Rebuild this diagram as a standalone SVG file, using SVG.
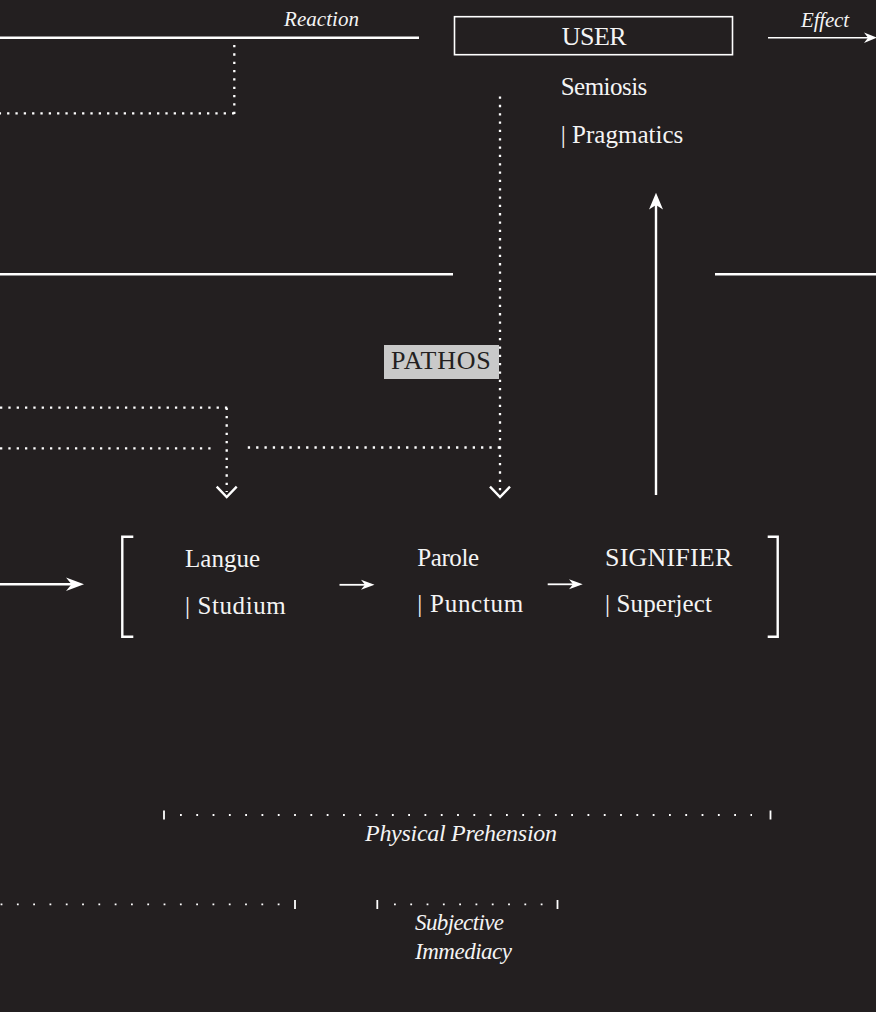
<svg xmlns="http://www.w3.org/2000/svg" width="876" height="1012" viewBox="0 0 876 1012">
  <style>
    .txt { font-family: "Liberation Serif", "DejaVu Serif", serif; fill: #f4f4f4; font-size: 25px; }
    .caps { font-size: 26px; }
    .it { font-family: "Liberation Serif", "DejaVu Serif", serif; fill: #f4f4f4; font-style: italic; font-size: 21px; }
    .big { font-size: 23px; }
    .solid { stroke: #ffffff; stroke-width: 2.4; fill: none; }
    .dots { stroke: #ffffff; stroke-width: 2.3; stroke-dasharray: 2.3 6.03; fill: none; }
    .fine { stroke: #ffffff; stroke-width: 1.8; stroke-dasharray: 1.8 14.5; fill: none; }
    .tick { stroke: #ffffff; stroke-width: 1.8; }
    .head { fill: #ffffff; }
    .chev { stroke: #ffffff; stroke-width: 2.4; fill: none; }
  </style>
  <rect width="876" height="1012" fill="#231f20"/>

  <g id="connectors">
    <!-- reaction line and its dotted return -->
    <line class="solid" x1="0" y1="37.7" x2="419" y2="37.7"/>
    <line class="dots" x1="234.3" y1="45" x2="234.3" y2="114"/>
    <line class="dots" x1="234.3" y1="113.3" x2="0" y2="113.3"/>

    <!-- effect arrow -->
    <line class="solid" x1="768" y1="37.7" x2="870" y2="37.7" style="stroke-width:1.6"/>
    <path class="head" d="M877,37.7 L864,32.5 L868,37.7 L864,42.9 Z"/>

    <!-- horizontal dividers -->
    <line class="solid" x1="0" y1="274.3" x2="453" y2="274.3"/>
    <line class="solid" x1="715" y1="274.3" x2="876" y2="274.3"/>

    <!-- dotted feed into Langue -->
    <line class="dots" x1="0" y1="407.7" x2="228" y2="407.7"/>
    <line class="dots" x1="226.7" y1="407.7" x2="226.7" y2="492"/>
    <polyline class="chev" points="216.7,486.7 226.7,497 236.7,486.7"/>
    <line class="dots" x1="0" y1="448.3" x2="211" y2="448.3"/>

    <!-- dotted feed into Parole -->
    <line class="dots" x1="500" y1="96.5" x2="500" y2="492"/>
    <line class="dots" x1="500" y1="447.5" x2="245" y2="447.5"/>
    <polyline class="chev" points="490,486.7 500,497 510,486.7"/>

    <!-- signifier up to user -->
    <line class="solid" x1="656" y1="495" x2="656" y2="204"/>
    <path class="head" d="M656,192.7 L663,209.5 L656,205 L649,209.5 Z"/>

    <!-- main chain -->
    <line class="solid" x1="0" y1="584.3" x2="76" y2="584.3"/>
    <path class="head" d="M84,584.3 L66,577.6 L71.5,584.3 L66,591 Z"/>
    <line class="solid" x1="339.5" y1="584.8" x2="368" y2="584.8" style="stroke-width:1.8"/>
    <path class="head" d="M374.5,584.8 L361,579.8 L365,584.8 L361,589.8 Z"/>
    <line class="solid" x1="547.7" y1="584.3" x2="576" y2="584.3" style="stroke-width:1.8"/>
    <path class="head" d="M582.7,584.3 L569,579.3 L573,584.3 L569,589.3 Z"/>

    <!-- brackets -->
    <polyline class="solid" points="133.3,536.7 122.3,536.7 122.3,636.7 133.3,636.7"/>
    <polyline class="solid" points="767.7,536.7 777.7,536.7 777.7,636.7 767.7,636.7"/>

    <!-- prehension scales -->
    <line class="fine" x1="180" y1="815" x2="752" y2="815"/>
    <line class="tick" x1="164" y1="810.5" x2="164" y2="819.5"/>
    <line class="tick" x1="770.5" y1="810.5" x2="770.5" y2="819.5"/>

    <line class="fine" x1="279.5" y1="904.3" x2="0" y2="904.3"/>
    <line class="tick" x1="295" y1="900" x2="295" y2="909"/>
    <line class="fine" x1="394" y1="904.3" x2="545" y2="904.3"/>
    <line class="tick" x1="377.3" y1="900" x2="377.3" y2="909"/>
    <line class="tick" x1="557.5" y1="900" x2="557.5" y2="909"/>
  </g>

  <g id="reaction-label">
    <text class="it" x="284" y="25.7" textLength="75">Reaction</text>
  </g>
  <g id="effect-label">
    <text class="it" x="801" y="26.7" textLength="48">Effect</text>
  </g>

  <g id="user">
    <rect x="454.5" y="16.7" width="278" height="38" fill="none" stroke="#ffffff" stroke-width="1.6"/>
    <text class="txt caps" x="561.7" y="45" textLength="65">USER</text>
    <text class="txt" x="560.7" y="95" textLength="86.6">Semiosis</text>
    <text class="txt" x="560.7" y="143.3" textLength="122.6">| Pragmatics</text>
  </g>

  <g id="pathos">
    <rect x="384" y="345" width="115" height="34" fill="#c9c9c9"/>
    <text class="txt caps" x="391" y="369.3" textLength="99.7" style="fill:#231f20">PATHOS</text>
  </g>

  <g id="langue">
    <text class="txt" x="185" y="567.3" textLength="75">Langue</text>
    <text class="txt" x="185" y="614" textLength="100.7">| Studium</text>
  </g>
  <g id="parole">
    <text class="txt" x="417.3" y="566" textLength="61.7">Parole</text>
    <text class="txt" x="417.3" y="612" textLength="106">| Punctum</text>
  </g>
  <g id="signifier">
    <text class="txt caps" x="605" y="566" textLength="127.3">SIGNIFIER</text>
    <text class="txt" x="605" y="612" textLength="107">| Superject</text>
  </g>

  <g id="physical-prehension">
    <text class="it big" x="365" y="841" textLength="192" style="font-size:24px">Physical Prehension</text>
  </g>
  <g id="subjective-immediacy">
    <text class="it big" x="415" y="930" textLength="89">Subjective</text>
    <text class="it big" x="415" y="959" textLength="97">Immediacy</text>
  </g>
</svg>
